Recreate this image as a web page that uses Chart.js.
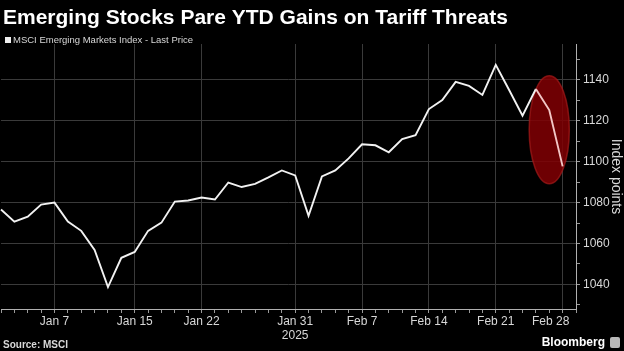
<!DOCTYPE html>
<html>
<head>
<meta charset="utf-8">
<script src="https://cdn.jsdelivr.net/npm/chart.js@4.4.1/dist/chart.umd.min.js"></script>
<style>
html, body { margin: 0; padding: 0; background: #000; }
#wrap { width: 624px; height: 351px; }
</style>
</head>
<body>
<div id="wrap"><canvas id="chart" width="624" height="351"></canvas></div>
<script>
// trading days shown on the axis (Mar 3 is an empty slot at the right edge)
const days = ['Dec 31', 'Jan 2', 'Jan 3', 'Jan 6', 'Jan 7', 'Jan 8', 'Jan 9', 'Jan 10', 'Jan 13', 'Jan 14',
  'Jan 15', 'Jan 16', 'Jan 17', 'Jan 20', 'Jan 21', 'Jan 22', 'Jan 23', 'Jan 24', 'Jan 27', 'Jan 28',
  'Jan 29', 'Jan 30', 'Jan 31', 'Feb 3', 'Feb 4', 'Feb 5', 'Feb 6', 'Feb 7', 'Feb 10', 'Feb 11',
  'Feb 12', 'Feb 13', 'Feb 14', 'Feb 17', 'Feb 18', 'Feb 19', 'Feb 20', 'Feb 21', 'Feb 24', 'Feb 25',
  'Feb 26', 'Feb 27', 'Feb 28', 'Mar 3'];
const prices = [1076.6, 1070.7, 1073.1, 1079.0, 1080.0, 1070.7, 1066.2, 1056.9, 1038.7, 1053.0,
  1055.9, 1066.2, 1070.2, 1080.5, 1081.0, 1082.5, 1081.5, 1089.8, 1087.6, 1089.1,
  1092.3, 1095.7, 1093.3, 1073.6, 1092.8, 1095.7, 1101.6, 1108.5, 1108.0, 1104.6,
  1111.0, 1112.9, 1125.7, 1130.1, 1139.0, 1137.0, 1132.6, 1147.3, 1135.0, 1122.5,
  1135.5, 1125.2, 1097.7, null];
const majorDays = ['Jan 7', 'Jan 15', 'Jan 22', 'Jan 31', 'Feb 7', 'Feb 14', 'Feb 21', 'Feb 28'];
const yearDay = 'Jan 31';
const yearText = '2025';
const highlightDays = ['Feb 26', 'Feb 27', 'Feb 28'];

const titleText = 'Emerging Stocks Pare YTD Gains on Tariff Threats';
const seriesName = 'MSCI Emerging Markets Index - Last Price';
const sourceText = 'Source: MSCI';
const brandText = 'Bloomberg';

const GRID = '#3a3a3a';
const TICK = '#9a9a9a';
const TEXT = '#d8d8d8';
const FONT = '"Liberation Sans", Arial, sans-serif';
const firstHi = days.indexOf(highlightDays[0]);
const lastMajor = majorDays[majorDays.length - 1];

const extras = {
  id: 'extras',
  beforeDatasetsDraw(chart) {
    // red ellipse around the last days
    const x = chart.scales.x, y = chart.scales.y, ctx = chart.ctx;
    const idx = highlightDays.map((d) => days.indexOf(d));
    const vals = idx.map((i) => prices[i]);
    const mid = idx[Math.floor(idx.length / 2)];
    const cx = x.getPixelForValue(mid);
    const step = x.getPixelForValue(1) - x.getPixelForValue(0);
    const hi = Math.max(...vals) + 6.5, lo = Math.min(...vals) - 8.5;
    const top = y.getPixelForValue(hi), bot = y.getPixelForValue(lo);
    ctx.save();
    ctx.beginPath();
    ctx.ellipse(cx, (top + bot) / 2, step * 1.5, (bot - top) / 2, 0, 0, Math.PI * 2);
    ctx.fillStyle = 'rgba(128, 0, 4, 0.86)';
    ctx.fill();
    ctx.lineWidth = 1.5;
    ctx.strokeStyle = 'rgba(165, 25, 25, 0.7)';
    ctx.stroke();
    ctx.restore();
  },
  afterDraw(chart) {
    const ctx = chart.ctx;
    ctx.save();
    ctx.textBaseline = 'middle';
    ctx.textAlign = 'left';
    ctx.fillStyle = '#ffffff';
    ctx.font = 'bold 21px ' + FONT;
    ctx.fillText(titleText, 3, 18);
    ctx.fillStyle = '#f0f0f0';
    ctx.fillRect(5, 37, 6, 6);
    ctx.fillStyle = TEXT;
    ctx.font = '9.5px ' + FONT;
    ctx.fillText(seriesName, 13, 40.5);
    ctx.font = 'bold 10px ' + FONT;
    ctx.fillText(sourceText, 3, 345);
    ctx.fillStyle = '#ffffff';
    ctx.font = 'bold 12px ' + FONT;
    ctx.textAlign = 'right';
    ctx.fillText(brandText, 605, 343);
    ctx.fillStyle = '#b8b8b8';
    ctx.beginPath();
    ctx.roundRect(610, 337, 10, 11, 2);
    ctx.fill();
    ctx.restore();
  }
};

new Chart(document.getElementById('chart'), {
  type: 'line',
  data: {
    labels: days,
    datasets: [{
      label: seriesName,
      data: prices,
      borderColor: '#f2f2f2',
      borderWidth: 1.9,
      pointRadius: 0,
      tension: 0,
      segment: {
        borderColor: (c) => (c.p0DataIndex >= firstHi ? '#f2c6c6' : undefined)
      }
    }]
  },
  options: {
    responsive: false,
    animation: false,
    layout: { padding: { top: 44, left: 0, right: 0, bottom: 0 } },
    plugins: { legend: { display: false }, tooltip: { enabled: false } },
    scales: {
      x: {
        offset: false,
        afterFit: (s) => { s.height = 42; },
        grid: {
          offset: false,
          color: (c) => (majorDays.includes(days[c.index]) ? GRID : 'transparent'),
          tickColor: TICK,
          tickLength: 4
        },
        border: { display: true, color: '#b0b0b0' },
        ticks: {
          autoSkip: false,
          maxRotation: 0,
          padding: 1,
          color: TEXT,
          font: { family: FONT, size: 12 },
          callback: (v, i) => {
            const d = days[i];
            if (!majorDays.includes(d)) return '';
            if (d === yearDay) return [d, yearText];
            // last label sits a bit left of its gridline, as in the original
            return d === lastMajor ? d + '\u2003\u2003' : d;
          }
        }
      },
      y: {
        position: 'right',
        min: 1028,
        max: 1157.5,
        afterFit: (s) => { s.width = 48; },
        grid: {
          color: (c) => (c.tick && c.tick.value % 20 === 0 ? GRID : 'transparent'),
          tickColor: TICK,
          tickLength: 4
        },
        border: { display: true, color: '#b0b0b0' },
        title: {
          display: true,
          text: 'Index points',
          color: TEXT,
          padding: 0,
          font: { family: FONT, size: 14 }
        },
        ticks: {
          stepSize: 10,
          includeBounds: false,
          padding: 3,
          color: TEXT,
          font: { family: FONT, size: 12 },
          callback: (v) => (v % 20 === 0 ? v : '')
        }
      }
    }
  },
  plugins: [extras]
});
</script>
</body>
</html>
